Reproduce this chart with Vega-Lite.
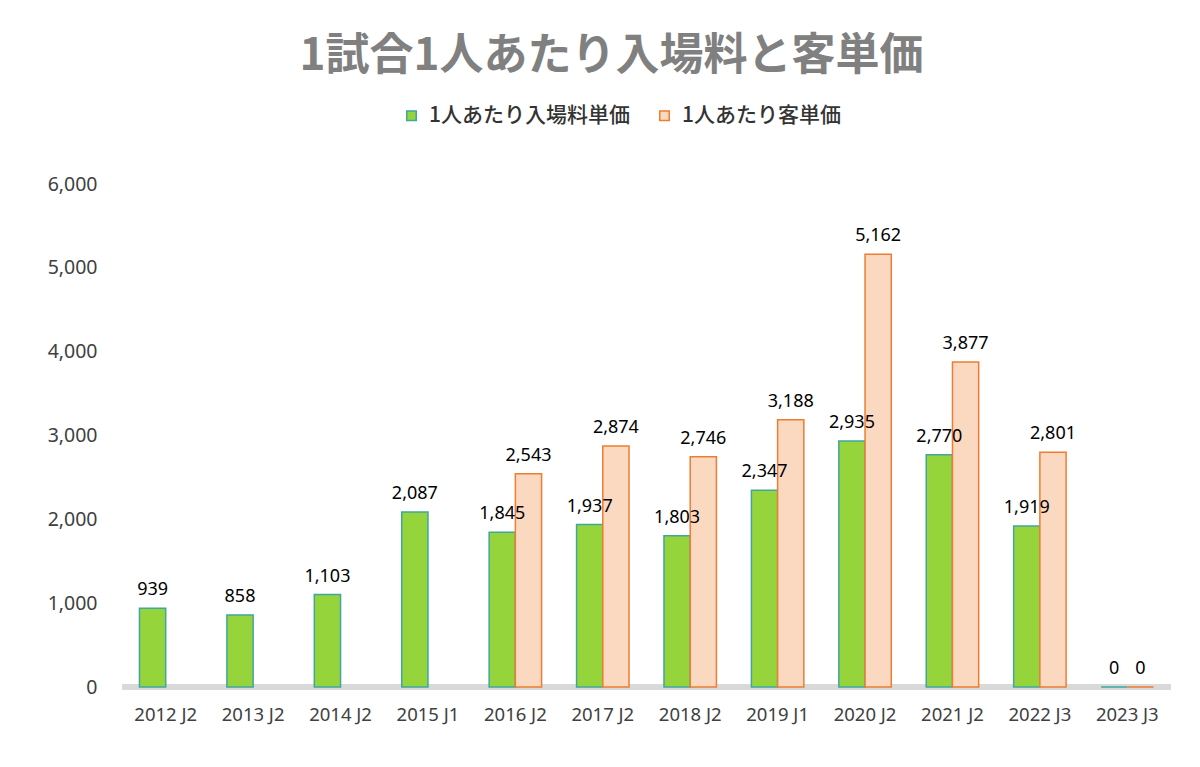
{
  "$schema": "https://vega.github.io/schema/vega-lite/v6.json",
  "autosize": {"type": "none"},
  "width": 1049,
  "height": 503,
  "padding": {"left": 122, "top": 184, "right": 29, "bottom": 80},
  "background": "white",
  "config": {"view": {"stroke": null}},
  "title": {
    "text": "1試合1人あたり入場料と客単価",
    "font": "Noto Sans CJK JP",
    "fontSize": 44,
    "fontWeight": "bold",
    "color": "#808080",
    "anchor": "middle",
    "frame": "group",
    "dx": -35,
    "offset": 26
  },
  "data": {
    "values": [
      {"season": "2012 J2", "series": "1人あたり入場料単価", "value": 939},
      {"season": "2013 J2", "series": "1人あたり入場料単価", "value": 858},
      {"season": "2014 J2", "series": "1人あたり入場料単価", "value": 1103},
      {"season": "2015 J1", "series": "1人あたり入場料単価", "value": 2087},
      {"season": "2016 J2", "series": "1人あたり入場料単価", "value": 1845},
      {"season": "2016 J2", "series": "1人あたり客単価", "value": 2543},
      {"season": "2017 J2", "series": "1人あたり入場料単価", "value": 1937},
      {"season": "2017 J2", "series": "1人あたり客単価", "value": 2874},
      {"season": "2018 J2", "series": "1人あたり入場料単価", "value": 1803},
      {"season": "2018 J2", "series": "1人あたり客単価", "value": 2746},
      {"season": "2019 J1", "series": "1人あたり入場料単価", "value": 2347},
      {"season": "2019 J1", "series": "1人あたり客単価", "value": 3188},
      {"season": "2020 J2", "series": "1人あたり入場料単価", "value": 2935},
      {"season": "2020 J2", "series": "1人あたり客単価", "value": 5162},
      {"season": "2021 J2", "series": "1人あたり入場料単価", "value": 2770},
      {"season": "2021 J2", "series": "1人あたり客単価", "value": 3877},
      {"season": "2022 J3", "series": "1人あたり入場料単価", "value": 1919},
      {"season": "2022 J3", "series": "1人あたり客単価", "value": 2801},
      {"season": "2023 J3", "series": "1人あたり入場料単価", "value": 0},
      {"season": "2023 J3", "series": "1人あたり客単価", "value": 0}
    ]
  },
  "encoding": {
    "x": {
      "field": "season",
      "type": "nominal",
      "sort": null,
      "scale": {"paddingInner": 0.4, "paddingOuter": 0.2},
      "axis": {
        "title": null,
        "labelAngle": 0,
        "labelFont": "Noto Sans",
        "labelFontSize": 18.5,
        "labelColor": "#404040",
        "labelPadding": 18,
        "domain": false,
        "ticks": false
      }
    },
    "xOffset": {
      "field": "series",
      "type": "nominal",
      "scale": {"domain": ["1人あたり入場料単価", "1人あたり客単価"]}
    },
    "y": {
      "field": "value",
      "type": "quantitative",
      "scale": {"domain": [0, 6000], "nice": false},
      "axis": {
        "title": null,
        "values": [0, 1000, 2000, 3000, 4000, 5000, 6000],
        "format": ",d",
        "labelFont": "Noto Sans",
        "labelFontSize": 19.5,
        "labelColor": "#404040",
        "labelPadding": 25,
        "domain": false,
        "ticks": false,
        "grid": false
      }
    }
  },
  "layer": [
    {
      "mark": {"type": "rule", "color": "#d9d9d9", "strokeWidth": 5},
      "encoding": {"y": {"datum": 0}, "x": {"value": 0}, "x2": {"value": 1049}, "xOffset": null}
    },
    {
      "mark": {"type": "bar", "strokeWidth": 1.5},
      "encoding": {
        "color": {
          "field": "series",
          "type": "nominal",
          "scale": {
            "domain": ["1人あたり入場料単価", "1人あたり客単価"],
            "range": ["#96d43c", "#fbd8c0"]
          },
          "legend": {
            "title": null,
            "orient": "none",
            "direction": "horizontal",
            "legendX": 279,
            "legendY": -79,
            "symbolType": "square",
            "symbolSize": 90,
            "symbolStrokeWidth": 1.5,
            "labelFont": "Noto Sans CJK JP",
            "labelFontSize": 21,
            "labelFontWeight": 500,
            "labelColor": "#333333",
            "labelLimit": 400,
            "columnPadding": 24,
            "labelOffset": 7
          }
        },
        "stroke": {
          "field": "series",
          "type": "nominal",
          "scale": {
            "domain": ["1人あたり入場料単価", "1人あたり客単価"],
            "range": ["#3fa6a0", "#ed7d31"]
          },
          "legend": null
        }
      }
    },
    {
      "mark": {
        "type": "text",
        "dy": -9,
        "baseline": "bottom",
        "font": "Noto Sans",
        "fontSize": 18,
        "color": "#000000"
      },
      "encoding": {"text": {"field": "value", "type": "quantitative", "format": ","}}
    }
  ]
}
